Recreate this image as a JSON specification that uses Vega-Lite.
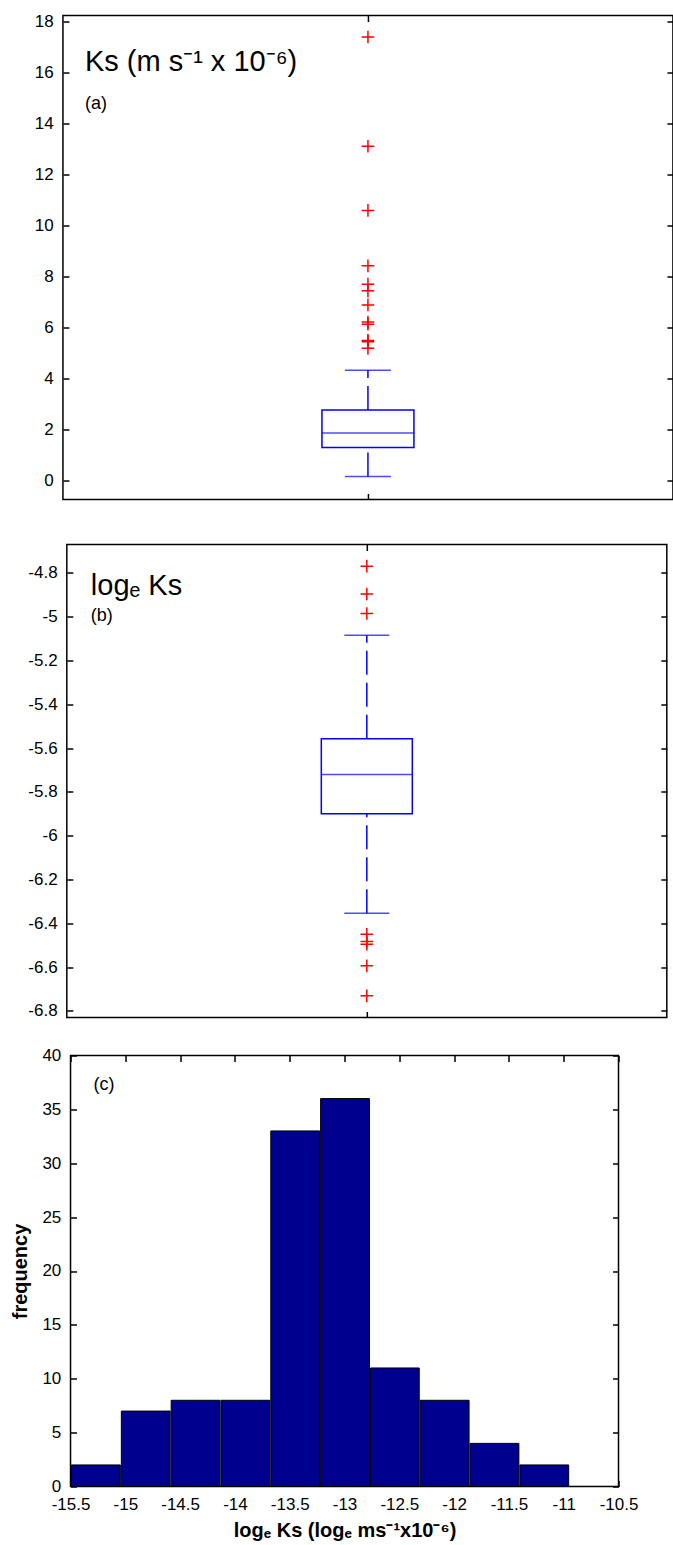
{
  "$schema": "https://vega.github.io/schema/vega-lite/v6.json",
  "padding": {"left": 1.7, "top": 10.5, "right": 0, "bottom": 0},
  "background": "white",
  "datasets": {
    "boxA": [{"g": "Ks", "lo": 0.17, "q1": 1.31, "med": 1.87, "q3": 2.77, "hi": 4.33}],
    "outA": [
      {"g": "Ks", "v": 17.38}, {"g": "Ks", "v": 13.1}, {"g": "Ks", "v": 10.59},
      {"g": "Ks", "v": 8.42}, {"g": "Ks", "v": 7.7}, {"g": "Ks", "v": 7.44},
      {"g": "Ks", "v": 6.89}, {"g": "Ks", "v": 6.22}, {"g": "Ks", "v": 6.13},
      {"g": "Ks", "v": 5.5}, {"g": "Ks", "v": 5.45}, {"g": "Ks", "v": 5.19}
    ],
    "boxB": [{"g": "lnKs", "lo": -6.354, "q1": -5.899, "med": -5.72, "q3": -5.557, "hi": -5.084}],
    "outB": [
      {"g": "lnKs", "v": -4.769}, {"g": "lnKs", "v": -4.896}, {"g": "lnKs", "v": -4.985},
      {"g": "lnKs", "v": -6.45}, {"g": "lnKs", "v": -6.483}, {"g": "lnKs", "v": -6.495},
      {"g": "lnKs", "v": -6.594}, {"g": "lnKs", "v": -6.731}
    ],
    "hist": [
      {"x0": -15.5, "x1": -15.0455, "count": 2},
      {"x0": -15.0455, "x1": -14.5909, "count": 7},
      {"x0": -14.5909, "x1": -14.1364, "count": 8},
      {"x0": -14.1364, "x1": -13.6818, "count": 8},
      {"x0": -13.6818, "x1": -13.2273, "count": 33},
      {"x0": -13.2273, "x1": -12.7727, "count": 36},
      {"x0": -12.7727, "x1": -12.3182, "count": 11},
      {"x0": -12.3182, "x1": -11.8636, "count": 8},
      {"x0": -11.8636, "x1": -11.4091, "count": 4},
      {"x0": -11.4091, "x1": -10.9545, "count": 2},
      {"x0": -10.9545, "x1": -10.5, "count": 0}
    ]
  },
  "columns": 1,
  "center": true,
  "bounds": "full",
  "spacing": 25,
  "concat": [
    {
      "width": 610,
      "height": 484,
      "title": {"text": "Ks (m s⁻¹ x 10⁻⁶)", "subtitle": "(a)", "fontSize": 29, "subtitleFontSize": 18, "subtitlePadding": 18, "offset": -101, "dx": 22},
      "resolve": {"axis": {"x": "independent", "y": "independent"}},
      "layer": [
        {
          "data": {"name": "boxA"},
          "mark": {"type": "bar", "size": 92, "fill": "transparent", "stroke": "#0000ff", "strokeWidth": 1.5},
          "encoding": {
            "x": {"field": "g", "type": "nominal", "axis": {"orient": "bottom", "labels": false, "title": null, "minExtent": 17, "maxExtent": 17}},
            "y": {"field": "q1", "type": "quantitative", "scale": {"domain": [-0.73, 18.22], "nice": false, "zero": false},
                  "axis": {"orient": "left", "title": null, "values": [0, 2, 4, 6, 8, 10, 12, 14, 16, 18], "minExtent": 60, "maxExtent": 60,
                           "labelExpr": "replace(format(datum.value, '~g'), '−', '-')"}},
            "y2": {"field": "q3"}
          }
        },
        {
          "data": {"name": "boxA"},
          "mark": {"type": "tick", "orient": "horizontal", "size": 92, "thickness": 1.5, "color": "#0000ff"},
          "encoding": {
            "x": {"field": "g", "type": "nominal", "axis": null},
            "y": {"field": "med", "type": "quantitative", "scale": {"domain": [-0.73, 18.22], "nice": false, "zero": false}, "axis": null}
          }
        },
        {
          "data": {"name": "boxA"},
          "mark": {"type": "tick", "orient": "horizontal", "size": 46, "thickness": 1.5, "color": "#0000ff"},
          "encoding": {
            "x": {"field": "g", "type": "nominal", "axis": null},
            "y": {"field": "hi", "type": "quantitative", "scale": {"domain": [-0.73, 18.22], "nice": false, "zero": false}, "axis": null}
          }
        },
        {
          "data": {"name": "boxA"},
          "mark": {"type": "tick", "orient": "horizontal", "size": 46, "thickness": 1.5, "color": "#0000ff"},
          "encoding": {
            "x": {"field": "g", "type": "nominal", "axis": null},
            "y": {"field": "lo", "type": "quantitative", "scale": {"domain": [-0.73, 18.22], "nice": false, "zero": false}, "axis": null}
          }
        },
        {
          "data": {"name": "boxA"},
          "mark": {"type": "rule", "color": "#0000ff", "strokeWidth": 1.5, "strokeDash": [24, 8]},
          "encoding": {
            "x": {"field": "g", "type": "nominal", "axis": null},
            "y": {"field": "q3", "type": "quantitative", "scale": {"domain": [-0.73, 18.22], "nice": false, "zero": false}, "axis": null},
            "y2": {"field": "hi"}
          }
        },
        {
          "data": {"name": "boxA"},
          "mark": {"type": "rule", "color": "#0000ff", "strokeWidth": 1.5, "strokeDash": [24, 8]},
          "encoding": {
            "x": {"field": "g", "type": "nominal", "axis": null},
            "y": {"field": "lo", "type": "quantitative", "scale": {"domain": [-0.73, 18.22], "nice": false, "zero": false}, "axis": null},
            "y2": {"field": "q1"}
          }
        },
        {
          "data": {"name": "outA"},
          "mark": {"type": "point", "shape": "M-1,0L1,0M0,-1L0,1", "filled": false, "size": 160, "stroke": "#ff0000", "strokeWidth": 1.5, "opacity": 1},
          "encoding": {
            "x": {"field": "g", "type": "nominal", "axis": {"orient": "top", "labels": false, "title": null, "minExtent": 0, "maxExtent": 0}},
            "y": {"field": "v", "type": "quantitative", "scale": {"domain": [-0.73, 18.22], "nice": false, "zero": false},
                  "axis": {"orient": "right", "labels": false, "title": null, "values": [0, 2, 4, 6, 8, 10, 12, 14, 16, 18], "minExtent": 0, "maxExtent": 0}}
          }
        }
      ]
    },
    {
      "width": 600,
      "height": 473,
      "title": {"text": "logₑ Ks", "subtitle": "(b)", "fontSize": 29, "subtitleFontSize": 18, "subtitlePadding": 6, "offset": -81, "dx": 24},
      "resolve": {"axis": {"x": "independent", "y": "independent"}},
      "layer": [
        {
          "data": {"name": "boxB"},
          "mark": {"type": "bar", "size": 91, "fill": "transparent", "stroke": "#0000ff", "strokeWidth": 1.5},
          "encoding": {
            "x": {"field": "g", "type": "nominal", "axis": {"orient": "bottom", "labels": false, "title": null, "minExtent": 0, "maxExtent": 0}},
            "y": {"field": "q1", "type": "quantitative", "scale": {"domain": [-6.83, -4.67], "nice": false, "zero": false},
                  "axis": {"orient": "left", "title": null, "values": [-6.8, -6.6, -6.4, -6.2, -6, -5.8, -5.6, -5.4, -5.2, -5, -4.8], "minExtent": 56, "maxExtent": 56,
                           "labelExpr": "replace(format(datum.value, '~g'), '−', '-')"}},
            "y2": {"field": "q3"}
          }
        },
        {
          "data": {"name": "boxB"},
          "mark": {"type": "tick", "orient": "horizontal", "size": 91, "thickness": 1.5, "color": "#0000ff"},
          "encoding": {
            "x": {"field": "g", "type": "nominal", "axis": null},
            "y": {"field": "med", "type": "quantitative", "scale": {"domain": [-6.83, -4.67], "nice": false, "zero": false}, "axis": null}
          }
        },
        {
          "data": {"name": "boxB"},
          "mark": {"type": "tick", "orient": "horizontal", "size": 45, "thickness": 1.5, "color": "#0000ff"},
          "encoding": {
            "x": {"field": "g", "type": "nominal", "axis": null},
            "y": {"field": "hi", "type": "quantitative", "scale": {"domain": [-6.83, -4.67], "nice": false, "zero": false}, "axis": null}
          }
        },
        {
          "data": {"name": "boxB"},
          "mark": {"type": "tick", "orient": "horizontal", "size": 45, "thickness": 1.5, "color": "#0000ff"},
          "encoding": {
            "x": {"field": "g", "type": "nominal", "axis": null},
            "y": {"field": "lo", "type": "quantitative", "scale": {"domain": [-6.83, -4.67], "nice": false, "zero": false}, "axis": null}
          }
        },
        {
          "data": {"name": "boxB"},
          "mark": {"type": "rule", "color": "#0000ff", "strokeWidth": 1.5, "strokeDash": [24, 8]},
          "encoding": {
            "x": {"field": "g", "type": "nominal", "axis": null},
            "y": {"field": "q3", "type": "quantitative", "scale": {"domain": [-6.83, -4.67], "nice": false, "zero": false}, "axis": null},
            "y2": {"field": "hi"}
          }
        },
        {
          "data": {"name": "boxB"},
          "mark": {"type": "rule", "color": "#0000ff", "strokeWidth": 1.5, "strokeDash": [24, 8]},
          "encoding": {
            "x": {"field": "g", "type": "nominal", "axis": null},
            "y": {"field": "lo", "type": "quantitative", "scale": {"domain": [-6.83, -4.67], "nice": false, "zero": false}, "axis": null},
            "y2": {"field": "q1"}
          }
        },
        {
          "data": {"name": "outB"},
          "mark": {"type": "point", "shape": "M-1,0L1,0M0,-1L0,1", "filled": false, "size": 160, "stroke": "#ff0000", "strokeWidth": 1.5, "opacity": 1},
          "encoding": {
            "x": {"field": "g", "type": "nominal", "axis": {"orient": "top", "labels": false, "title": null, "minExtent": 0, "maxExtent": 0}},
            "y": {"field": "v", "type": "quantitative", "scale": {"domain": [-6.83, -4.67], "nice": false, "zero": false},
                  "axis": {"orient": "right", "labels": false, "title": null, "values": [-6.8, -6.6, -6.4, -6.2, -6, -5.8, -5.6, -5.4, -5.2, -5, -4.8], "minExtent": 3, "maxExtent": 3}}
          }
        }
      ]
    },
    {
      "width": 548,
      "height": 431,
      "title": {"text": "(c)", "fontSize": 18, "offset": -48, "dx": 23},
      "resolve": {"axis": {"x": "independent", "y": "independent"}},
      "layer": [
        {
          "data": {"name": "hist"},
          "mark": {"type": "bar", "fill": "#00008f", "stroke": null},
          "encoding": {
            "x": {"field": "x0", "type": "quantitative", "bin": "binned", "scale": {"domain": [-15.5, -10.5], "nice": false, "zero": false},
                  "axis": {"orient": "bottom", "title": "logₑ Ks (logₑ ms⁻¹x10⁻⁶)", "titlePadding": 8,
                           "values": [-15.5, -15, -14.5, -14, -13.5, -13, -12.5, -12, -11.5, -11, -10.5],
                           "labelExpr": "replace(format(datum.value, '~g'), '−', '-')"}},
            "x2": {"field": "x1"},
            "y": {"field": "count", "type": "quantitative", "scale": {"domain": [0, 40], "nice": false},
                  "axis": {"orient": "left", "title": "frequency", "titlePadding": 10.5, "values": [0, 5, 10, 15, 20, 25, 30, 35, 40], "minExtent": 30, "maxExtent": 30}}
          }
        },
        {
          "data": {"name": "hist"},
          "mark": {"type": "bar", "fill": "transparent", "stroke": "black", "strokeWidth": 1},
          "encoding": {
            "x": {"field": "x0", "type": "quantitative", "bin": "binned", "scale": {"domain": [-15.5, -10.5], "nice": false, "zero": false},
                  "axis": {"orient": "top", "labels": false, "title": null, "values": [-15.5, -15, -14.5, -14, -13.5, -13, -12.5, -12, -11.5, -11, -10.5], "minExtent": 0, "maxExtent": 0}},
            "x2": {"field": "x1"},
            "y": {"field": "count", "type": "quantitative", "scale": {"domain": [0, 40], "nice": false},
                  "axis": {"orient": "right", "labels": false, "title": null, "values": [0, 5, 10, 15, 20, 25, 30, 35, 40], "minExtent": 47.6, "maxExtent": 47.6}}
          }
        }
      ]
    }
  ],
  "config": {
    "font": "Liberation Sans",
    "view": {"stroke": "black", "strokeWidth": 1.5},
    "axis": {
      "labelFont": "Liberation Sans", "labelFontSize": 17, "labelColor": "black",
      "tickColor": "black", "tickSize": -6, "tickWidth": 1.5, "domain": false, "grid": false,
      "labelFlush": false, "labelOverlap": false, "labelPadding": 15.7,
      "titleFont": "Liberation Sans", "titleFontSize": 20, "titleFontWeight": "bold", "titleColor": "black"
    },
    "title": {
      "font": "Liberation Sans", "fontWeight": "normal", "color": "black", "anchor": "start", "frame": "group",
      "subtitleFont": "Liberation Sans", "subtitleColor": "black"
    }
  }
}
